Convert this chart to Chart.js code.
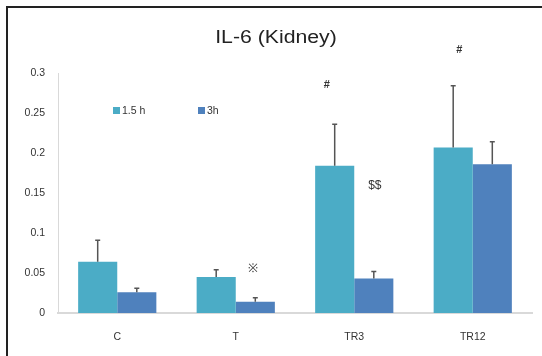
<!DOCTYPE html>
<html>
<head>
<meta charset="utf-8">
<script src="https://cdn.jsdelivr.net/npm/chart.js@4.4.0/dist/chart.umd.min.js"></script>
<style>
body { margin: 0; background: #fff; }
#wrap { position: relative; width: 542px; height: 356px; overflow: hidden; }
#frame { position: absolute; left: 6px; top: 6px; right: -10px; bottom: -10px; border-left: 2px solid #222; border-top: 2px solid #222; }
canvas { position: absolute; left: 0; top: 0; }
</style>
</head>
<body>
<div id="wrap">
  <div id="frame"></div>
  <canvas id="il6-chart" width="542" height="356"></canvas>
</div>
<script>
const groups = ['C', 'T', 'TR3', 'TR12'];
const seriesNames = ['1.5 h', '3h'];
const values15h = [0.064, 0.045, 0.184, 0.207];
const values3h = [0.026, 0.014, 0.043, 0.186];
const errors15h = [0.027, 0.009, 0.052, 0.077];
const errors3h = [0.005, 0.005, 0.009, 0.028];
const yTicks = [0, 0.05, 0.1, 0.15, 0.2, 0.25, 0.3];

// significance marks: text, group index, series index, height (in axis units)
const marks = ['※', '$$', '#', '#'];
const markGroup = [1, 2, 2, 3];
const markSeries = [1, 1, 0, 0];
const markLevel = [0.056, 0.159, 0.285, 0.329];

const colors = ['#4BACC6', '#4F81BD'];
const errors = [errors15h, errors3h];
const font = '"Liberation Sans", Arial, sans-serif';

const extras = {
    id: 'extras',
    afterDatasetsDraw(chart) {
        const ctx = chart.ctx;
        const y = chart.scales.y;
        ctx.save();
        ctx.strokeStyle = '#555';
        ctx.lineWidth = 1.5;
        chart.data.datasets.forEach((ds, s) => {
            chart.getDatasetMeta(s).data.forEach((bar, i) => {
                const top = y.getPixelForValue(ds.data[i] + errors[s][i]);
                ctx.beginPath();
                ctx.moveTo(bar.x, bar.y);
                ctx.lineTo(bar.x, top);
                ctx.moveTo(bar.x - 2.5, top);
                ctx.lineTo(bar.x + 2.5, top);
                ctx.stroke();
            });
        });
        ctx.restore();
    },
    afterDraw(chart) {
        const ctx = chart.ctx;
        const y = chart.scales.y;
        ctx.save();
        // title, a bit wider like the original
        ctx.fillStyle = '#222';
        ctx.font = '18px ' + font;
        ctx.textAlign = 'center';
        ctx.textBaseline = 'middle';
        ctx.save();
        ctx.translate(276, 38);
        ctx.scale(1.18, 1);
        ctx.fillText('IL-6 (Kidney)', 0, 0);
        ctx.restore();

        // legend
        ctx.font = '10.5px ' + font;
        ctx.textAlign = 'left';
        const legendX = [113, 198];
        seriesNames.forEach((name, s) => {
            ctx.fillStyle = colors[s];
            ctx.fillRect(legendX[s], 107, 7, 7);
            ctx.fillStyle = '#333';
            ctx.fillText(name, legendX[s] + 9, 111);
        });

        // marks
        const dx = [-2, 1, -8, 6];
        ctx.textAlign = 'center';
        ctx.fillStyle = '#333';
        marks.forEach((m, k) => {
            const bar = chart.getDatasetMeta(markSeries[k]).data[markGroup[k]];
            ctx.font = (m === '#' ? 'bold 11px ' : '12px ') + font;
            ctx.fillText(m, bar.x + dx[k], y.getPixelForValue(markLevel[k]));
        });
        ctx.restore();
    }
};

new Chart(document.getElementById('il6-chart'), {
    type: 'bar',
    data: {
        labels: groups,
        datasets: [{
            label: seriesNames[0],
            data: values15h,
            backgroundColor: colors[0]
        }, {
            label: seriesNames[1],
            data: values3h,
            backgroundColor: colors[1]
        }]
    },
    options: {
        responsive: false,
        animation: false,
        layout: {
            padding: { top: 73, right: 10, bottom: 0, left: 0 }
        },
        datasets: {
            bar: {
                barPercentage: 1,
                categoryPercentage: 0.66
            }
        },
        plugins: {
            legend: { display: false },
            title: { display: false },
            tooltip: { enabled: false }
        },
        scales: {
            x: {
                grid: { display: false, drawTicks: false },
                border: { color: '#d9d9d9', width: 2 },
                ticks: {
                    color: '#333',
                    font: { family: font, size: 10.5 },
                    padding: 18
                },
                afterFit(scale) { scale.height = 43; }
            },
            y: {
                min: 0,
                max: 0.3,
                grid: { display: false, drawTicks: false },
                border: { color: '#d9d9d9', width: 1 },
                afterBuildTicks(scale) {
                    scale.ticks = yTicks.map(v => ({ value: v }));
                },
                ticks: {
                    color: '#333',
                    font: { family: font, size: 10.5 },
                    padding: 13,
                    callback: v => String(+v.toFixed(2))
                },
                afterFit(scale) { scale.width = 58; }
            }
        }
    },
    plugins: [extras]
});
</script>
</body>
</html>
